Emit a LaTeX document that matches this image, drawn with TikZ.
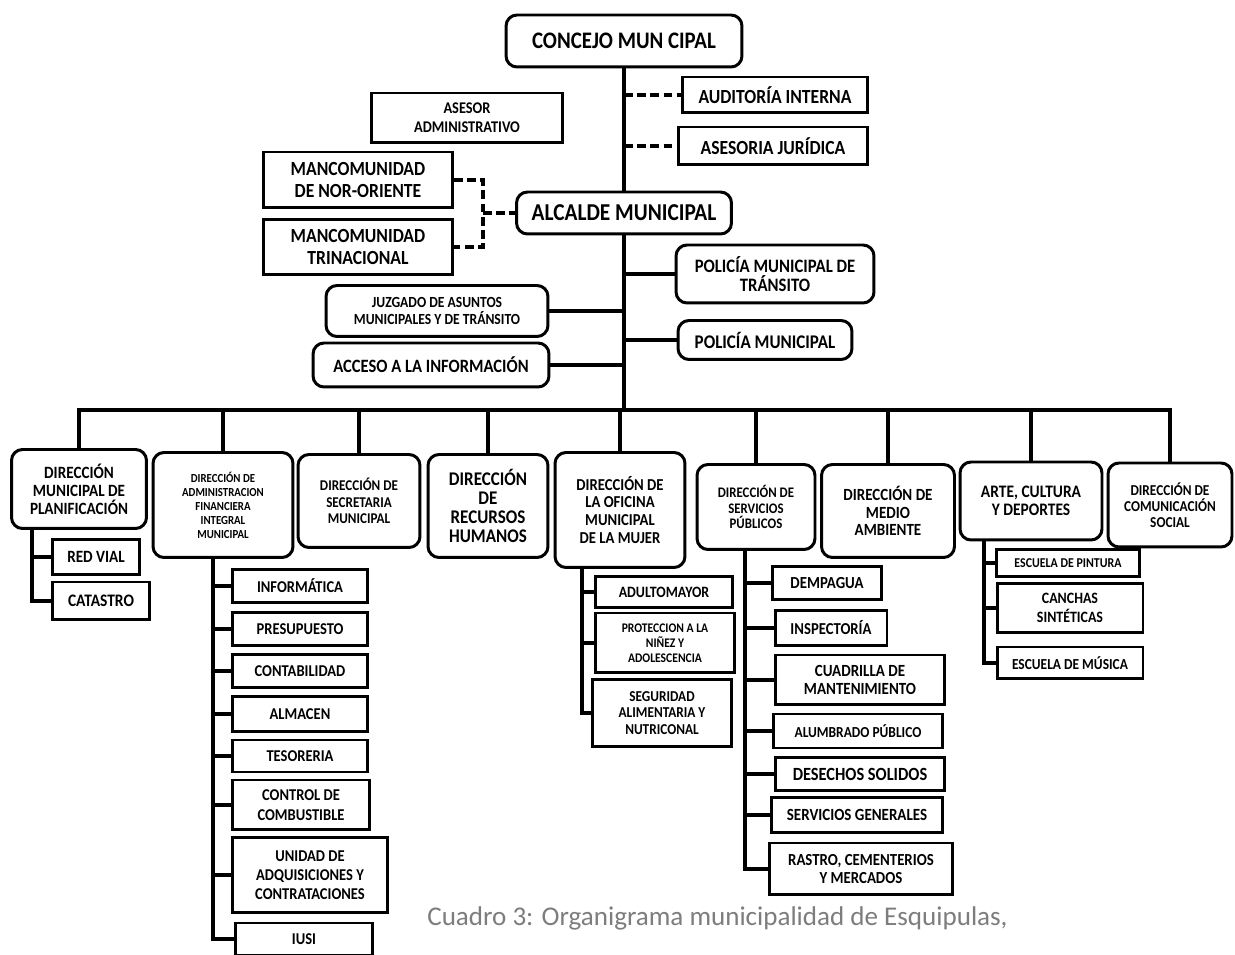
\documentclass[tikz,border=0pt]{standalone}
\usepackage{fontspec}
\usepackage{tikz}
\usetikzlibrary{positioning,calc}
\usepackage{xcolor}
\newfontfamily\orgfont[FakeStretch=0.88]{Carlito}
\newfontfamily\capfont{Carlito}
\definecolor{capgray}{RGB}{125,125,125}

\begin{document}
\begin{tikzpicture}[x=0.02cm, y=-0.02cm,
    rbox/.style={rectangle, rounded corners=0.22cm, draw=black, line width=1.7pt, fill=white, align=center, inner sep=1pt},
    sbox/.style={rectangle, draw=black, line width=1.7pt, fill=white, align=center, inner sep=1pt},
    conn/.style={draw=black, line width=2pt},
    dashconn/.style={draw=black, line width=2pt, dash pattern=on 5pt off 2.5pt},
    txt/.style 2 args={font=\orgfont\bfseries\fontsize{#1}{#2}\selectfont}
]
\fill[white] (0,0) rectangle (1235,955);
\useasboundingbox (0,0) rectangle (1235,955);

% Top of the chart
\node (concejo) [rbox, txt={13.5}{15}, minimum width=4.72cm, minimum height=1.04cm] at (624,41) {CONCEJO MUN CIPAL};
\node (audit) [sbox, txt={11.4}{13}, minimum width=3.72cm, minimum height=0.72cm] at (775,95) {AUDITORÍA INTERNA};
\node (juridica) [sbox, txt={11.4}{13}, minimum width=3.78cm, minimum height=0.76cm] at (773,146) {ASESORIA JURÍDICA};
\node (asesor) [sbox, txt={9.3}{11}, minimum width=3.82cm, minimum height=1.0cm] at (467,118) {ASESOR\\ADMINISTRATIVO};
\node (nor) [sbox, txt={11.4}{12}, minimum width=3.78cm, minimum height=1.12cm] at (358,180) {MANCOMUNIDAD\\DE NOR-ORIENTE};
\node (tri) [sbox, txt={11.4}{12}, minimum width=3.78cm, minimum height=1.10cm] at (358,247) {MANCOMUNIDAD\\TRINACIONAL};
\node (alcalde) [rbox, txt={13.8}{15}, minimum width=4.3cm, minimum height=0.84cm] at (624,213) {ALCALDE MUNICIPAL};
\node (transito) [rbox, txt={10.8}{10.5}, minimum width=3.96cm, minimum height=1.16cm] at (775,274) {POLICÍA MUNICIPAL DE\\TRÁNSITO};
\node (juzgado) [rbox, txt={8.8}{9.2}, minimum width=4.44cm, minimum height=1.02cm] at (437,311) {JUZGADO DE ASUNTOS\\MUNICIPALES Y DE TRÁNSITO};
\node (policia) [rbox, txt={11}{12}, minimum width=3.48cm, minimum height=0.78cm] at (765,340) {POLICÍA MUNICIPAL};
\node (acceso) [rbox, txt={10.7}{12}, minimum width=4.72cm, minimum height=0.88cm] at (431,365) {ACCESO A LA INFORMACIÓN};
\coordinate (bus) at (624,410);

% Direcciones
\node (d1) [rbox, txt={9.8}{10.2}, minimum width=2.7cm, minimum height=1.58cm] at (79,489) {DIRECCIÓN\\MUNICIPAL DE\\PLANIFICACIÓN};
\node (d2) [rbox, txt={7}{8}, minimum width=2.8cm, minimum height=2.1cm] at (223,505) {DIRECCIÓN DE\\ADMINISTRACION\\FINANCIERA\\INTEGRAL\\MUNICIPAL};
\node (d3) [rbox, txt={8.5}{9.5}, minimum width=2.44cm, minimum height=1.86cm] at (359,501) {DIRECCIÓN DE\\SECRETARIA\\MUNICIPAL};
\node (d4) [rbox, txt={11}{10.8}, minimum width=2.4cm, minimum height=2.06cm] at (488,506) {DIRECCIÓN\\DE\\RECURSOS\\HUMANOS};
\node (d5) [rbox, txt={9.5}{10.2}, minimum width=2.6cm, minimum height=2.3cm] at (620,510) {DIRECCIÓN DE\\LA OFICINA\\MUNICIPAL\\DE LA MUJER};
\node (d6) [rbox, txt={8.3}{9}, minimum width=2.36cm, minimum height=1.7cm] at (756,507) {DIRECCIÓN DE\\SERVICIOS\\PÚBLICOS};
\node (d7) [rbox, txt={9.7}{10}, minimum width=2.66cm, minimum height=1.86cm] at (888,511) {DIRECCIÓN DE\\MEDIO\\AMBIENTE};
\node (d8) [rbox, txt={10}{10.2}, minimum width=2.84cm, minimum height=1.56cm] at (1031,501) {ARTE, CULTURA\\Y DEPORTES};
\node (d9) [rbox, txt={8.6}{9}, minimum width=2.48cm, minimum height=1.68cm] at (1170,505) {DIRECCIÓN DE\\COMUNICACIÓN\\SOCIAL};

% Planificacion
\node (redvial) [sbox, txt={9.8}{11}, minimum width=1.76cm, minimum height=0.7cm] at (96,557) {RED VIAL};
\node (catastro) [sbox, txt={10}{11}, minimum width=1.96cm, minimum height=0.76cm] at (101,601) {CATASTRO};

% Administracion financiera
\node (informatica) [sbox, txt={9.4}{11}, minimum width=2.72cm, minimum height=0.66cm] at (300,586) {INFORMÁTICA};
\node (presupuesto) [sbox, txt={9.4}{11}, minimum width=2.72cm, minimum height=0.66cm] at (300,629) {PRESUPUESTO};
\node (contabilidad) [sbox, txt={9.4}{11}, minimum width=2.72cm, minimum height=0.66cm] at (300,671) {CONTABILIDAD};
\node (almacen) [sbox, txt={9.4}{11}, minimum width=2.72cm, minimum height=0.7cm] at (300,714) {ALMACEN};
\node (tesoreria) [sbox, txt={9.4}{11}, minimum width=2.72cm, minimum height=0.64cm] at (300,756) {TESORERIA};
\node (combustible) [sbox, txt={9.4}{11.3}, minimum width=2.76cm, minimum height=1.0cm] at (301,805) {CONTROL DE\\COMBUSTIBLE};
\node (adquisiciones) [sbox, txt={9.4}{10.9}, minimum width=3.12cm, minimum height=1.5cm] at (310,875) {UNIDAD DE\\ADQUISICIONES Y\\CONTRATACIONES};
\node (iusi) [sbox, txt={9.4}{11}, minimum width=2.76cm, minimum height=0.64cm] at (304,939) {IUSI};

% Oficina de la mujer
\node (adulto) [sbox, txt={9}{10}, minimum width=2.76cm, minimum height=0.62cm] at (664,592) {ADULTOMAYOR};
\node (proteccion) [sbox, txt={7.5}{8.5}, minimum width=2.8cm, minimum height=1.2cm] at (665,643) {PROTECCION A LA\\NIÑEZ Y\\ADOLESCENCIA};
\node (seguridad) [sbox, txt={8.6}{9.6}, minimum width=2.78cm, minimum height=1.34cm] at (662,713) {SEGURIDAD\\ALIMENTARIA Y\\NUTRICONAL};

% Servicios publicos
\node (dempagua) [sbox, txt={9.6}{11}, minimum width=2.18cm, minimum height=0.66cm] at (827,583) {DEMPAGUA};
\node (inspectoria) [sbox, txt={9.5}{11}, minimum width=2.24cm, minimum height=0.7cm] at (831,628) {INSPECTORÍA};
\node (cuadrilla) [sbox, txt={9.7}{10.5}, minimum width=3.4cm, minimum height=1.0cm] at (860,680) {CUADRILLA DE\\MANTENIMIENTO};
\node (alumbrado) [sbox, txt={8.7}{10}, minimum width=3.4cm, minimum height=0.68cm] at (858,731) {ALUMBRADO PÚBLICO};
\node (desechos) [sbox, txt={10.6}{12}, minimum width=3.4cm, minimum height=0.66cm] at (860,774) {DESECHOS SOLIDOS};
\node (servicios) [sbox, txt={9.7}{11}, minimum width=3.42cm, minimum height=0.7cm] at (857,815) {SERVICIOS GENERALES};
\node (rastro) [sbox, txt={9.6}{10.4}, minimum width=3.66cm, minimum height=1.04cm] at (861,869) {RASTRO, CEMENTERIOS\\Y MERCADOS};

% Arte y cultura
\node (pintura) [sbox, txt={7.7}{9}, minimum width=2.86cm, minimum height=0.54cm] at (1068,563) {ESCUELA DE PINTURA};
\node (canchas) [sbox, txt={9}{10.4}, minimum width=2.92cm, minimum height=0.98cm] at (1070,608) {CANCHAS\\SINTÉTICAS};
\node (musica) [sbox, txt={8.7}{10}, minimum width=2.92cm, minimum height=0.64cm] at (1070,663) {ESCUELA DE MÚSICA};

% Caption
\node (caption) [anchor=west, inner sep=0pt, text=capgray, font=\capfont\fontsize{15.4}{18}\selectfont] at (427,918) {Cuadro 3: Organigrama municipalidad de Esquipulas,};

% Connectors
\draw[conn] (concejo.south) -- (alcalde.north);
\draw[conn] (alcalde.south) -- (bus);
\draw[dashconn] (concejo.south |- audit.west) -- (audit.west);
\draw[dashconn] (concejo.south |- juridica.west) -- (juridica.west);
\coordinate (mancjoin) at (483,213);
\draw[dashconn] (nor.east) -| (mancjoin) |- (tri.east);
\draw[dashconn] (mancjoin) -- (alcalde.west);
\draw[conn] (bus |- transito.west) -- (transito.west);
\draw[conn] (bus |- policia.west) -- (policia.west);
\draw[conn] (juzgado.east) -- (bus |- juzgado.east);
\draw[conn] (acceso.east) -- (bus |- acceso.east);

\draw[conn] (d1.north) -- (d1.north |- bus) -- (d9.north |- bus) -- (d9.north);
\foreach \d in {d2,d3,d4,d5,d6,d7,d8}
    \draw[conn] (\d.north) -- (\d.north |- bus);

\coordinate (s1) at (32,529);
\draw[conn] (s1) |- (catastro.west);
\draw[conn] (s1 |- redvial.west) -- (redvial.west);

\coordinate (s2) at (213,558);
\draw[conn] (s2) |- (iusi.west);
\foreach \n in {informatica,presupuesto,contabilidad,almacen,tesoreria,combustible,adquisiciones}
    \draw[conn] (s2 |- \n.west) -- (\n.west);

\coordinate (s5) at (582,568);
\draw[conn] (s5) |- (seguridad.west);
\foreach \n in {adulto,proteccion}
    \draw[conn] (s5 |- \n.west) -- (\n.west);

\coordinate (s6) at (745,550);
\draw[conn] (s6) |- (rastro.west);
\foreach \n in {dempagua,inspectoria,cuadrilla,alumbrado,desechos,servicios}
    \draw[conn] (s6 |- \n.west) -- (\n.west);

\coordinate (s8) at (984,540);
\draw[conn] (s8) |- (musica.west);
\foreach \n in {pintura,canchas}
    \draw[conn] (s8 |- \n.west) -- (\n.west);

\end{tikzpicture}
\end{document}
